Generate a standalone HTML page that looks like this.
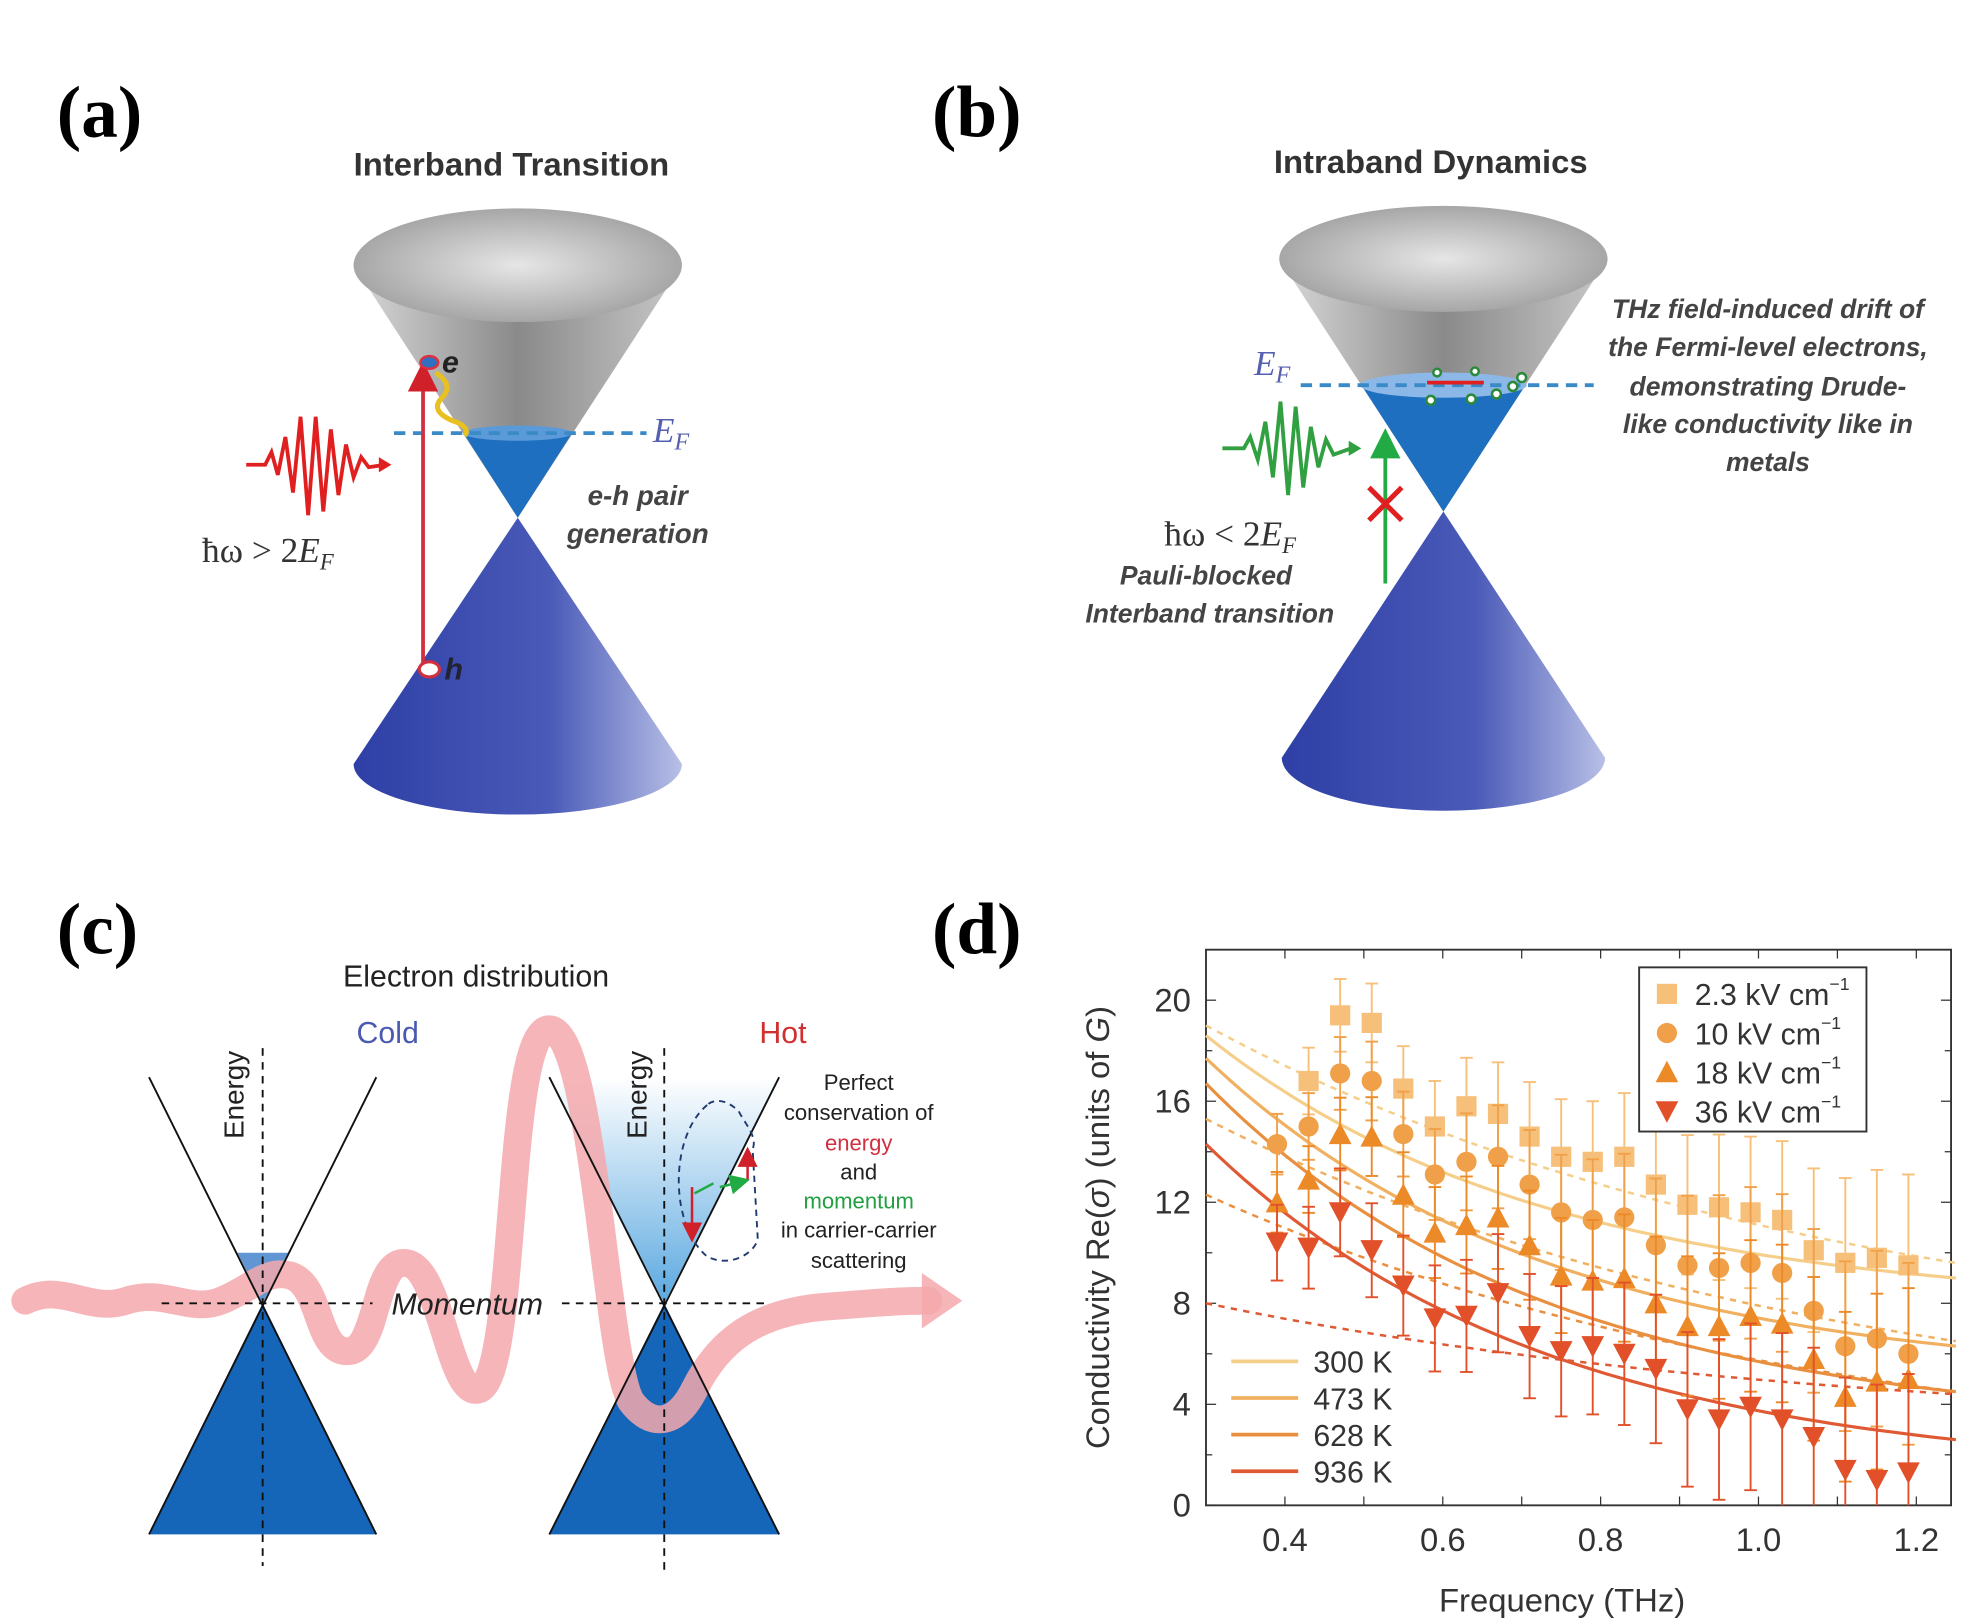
<!DOCTYPE html>
<html><head><meta charset="utf-8"><style>
html,body{margin:0;padding:0;background:#fff}
svg{display:block}
</style></head><body>
<svg id="s" width="1970" height="1619" viewBox="0 0 1560 1282" preserveAspectRatio="none" xmlns="http://www.w3.org/2000/svg" font-family="Liberation Sans, sans-serif">
<defs>
<linearGradient id="gray" x1="0" y1="0" x2="1" y2="0"><stop offset="0" stop-color="#d8d8d8"/><stop offset="0.5" stop-color="#8a8a8a"/><stop offset="1" stop-color="#c8c8c8"/></linearGradient>
<radialGradient id="grayTop" cx="0.5" cy="0.5" r="0.6"><stop offset="0" stop-color="#e6e6e6"/><stop offset="1" stop-color="#9a9a9a"/></radialGradient>
<linearGradient id="blue" x1="0" y1="0" x2="1" y2="0"><stop offset="0" stop-color="#2e3fa6"/><stop offset="0.6" stop-color="#4a5ab8"/><stop offset="1" stop-color="#b8c0e6"/></linearGradient>
<linearGradient id="hot" x1="0" y1="1" x2="0" y2="0"><stop offset="0" stop-color="#5aa8e0"/><stop offset="1" stop-color="#ffffff"/></linearGradient>
<marker id="ar" markerWidth="8" markerHeight="8" refX="6" refY="4" orient="auto"><path d="M0,0 L8,4 L0,8 z" fill="#d0202a"/></marker>
<marker id="ag" markerWidth="8" markerHeight="8" refX="6" refY="4" orient="auto"><path d="M0,0 L8,4 L0,8 z" fill="#22aa44"/></marker>
</defs>

<!-- (a) -->
<text x="45" y="108" font-family="Liberation Serif, serif" font-weight="bold" font-size="58">(a)</text>
<text x="405" y="139" text-anchor="middle" font-weight="bold" font-size="26" fill="#333">Interband Transition</text>
<path d="M280,210 L410,410 L540,210 Z" fill="url(#gray)"/>
<ellipse cx="410" cy="210" rx="130" ry="45" fill="url(#grayTop)"/>
<path d="M367,343 L410,410 L453,343 Z" fill="#1f6fc0"/>
<ellipse cx="410" cy="343" rx="43" ry="6" fill="#5b9ad8"/>
<path d="M410,410 L280,605 A130,40 0 0 0 540,605 Z" fill="url(#blue)"/>
<line x1="312" y1="343" x2="512" y2="343" stroke="#3a8ac8" stroke-width="3" stroke-dasharray="9,6"/>
<text x="517" y="350" font-family="Liberation Serif, serif" font-style="italic" font-size="28" fill="#5560b0">E<tspan font-size="19" dy="6">F</tspan></text>
<path d="M195,368 L210,368 L215,358 L220,376 L226,346 L232,390 L238,330 L244,408 L250,330 L256,405 L262,340 L268,392 L274,352 L280,378 L286,362 L292,370 L305,368" fill="none" stroke="#e02020" stroke-width="3"/>
<path d="M300,362 L310,368 L300,374 Z" fill="#e02020"/>
<text x="160" y="445" font-family="Liberation Serif, serif" font-size="28" fill="#333">ħω &gt; 2<tspan font-style="italic">E</tspan><tspan font-size="18" dy="6" font-style="italic">F</tspan></text>
<line x1="335" y1="525" x2="335" y2="292" stroke="#d03040" stroke-width="3" marker-end="url(#ar)"/>
<ellipse cx="340" cy="287" rx="7" ry="5" fill="#3070c0" stroke="#e03040" stroke-width="2"/>
<text x="350" y="295" font-style="italic" font-weight="bold" font-size="24" fill="#222">e</text>
<path d="M345,295 q15,10 5,20 q-10,10 8,18 q15,5 10,12" fill="none" stroke="#e8c020" stroke-width="4"/>
<ellipse cx="340" cy="530" rx="8" ry="6" fill="#fff" stroke="#d03040" stroke-width="2.5"/>
<text x="352" y="538" font-style="italic" font-weight="bold" font-size="24" fill="#223">h</text>
<text x="505" y="400" text-anchor="middle" font-style="italic" font-weight="bold" font-size="22" fill="#444">e-h pair</text>
<text x="505" y="430" text-anchor="middle" font-style="italic" font-weight="bold" font-size="22" fill="#444">generation</text>

<!-- (b) -->
<text x="738" y="108" font-family="Liberation Serif, serif" font-weight="bold" font-size="58">(b)</text>
<text x="1133" y="137" text-anchor="middle" font-weight="bold" font-size="26" fill="#333">Intraband Dynamics</text>
<path d="M1013,205 L1143,405 L1273,205 Z" fill="url(#gray)"/>
<ellipse cx="1143" cy="205" rx="130" ry="42" fill="url(#grayTop)"/>
<path d="M1078,305 L1143,405 L1208,305 Z" fill="#1f6fc0"/>
<ellipse cx="1143" cy="305" rx="66" ry="10" fill="#8cb8e8"/>
<path d="M1143,405 L1015,600 A128,42 0 0 0 1271,600 Z" fill="url(#blue)"/>
<line x1="1030" y1="305" x2="1262" y2="305" stroke="#3a8ac8" stroke-width="3" stroke-dasharray="9,6"/>
<line x1="1130" y1="303" x2="1175" y2="303" stroke="#e02020" stroke-width="3"/>
<g fill="#fff" stroke="#2a8a3a" stroke-width="2"><circle cx="1133" cy="317" r="3.5"/><circle cx="1165" cy="316" r="3.5"/><circle cx="1185" cy="312" r="3.5"/><circle cx="1198" cy="306" r="3.5"/><circle cx="1205" cy="299" r="3.5"/><circle cx="1138" cy="295" r="3"/><circle cx="1168" cy="294" r="3"/></g>
<text x="993" y="297" font-family="Liberation Serif, serif" font-style="italic" font-size="28" fill="#5560b0">E<tspan font-size="19" dy="6">F</tspan></text>
<path d="M968,355 L985,355 L990,346 L996,364 L1002,334 L1008,378 L1014,318 L1020,392 L1026,322 L1032,386 L1038,338 L1044,370 L1050,348 L1056,360 L1070,355" fill="none" stroke="#30a040" stroke-width="3"/>
<path d="M1068,349 L1078,355 L1068,361 Z" fill="#30a040"/>
<line x1="1097" y1="462" x2="1097" y2="345" stroke="#22aa44" stroke-width="3" marker-end="url(#ag)"/>
<path d="M1084,386 L1110,412 M1110,386 L1084,412" stroke="#e02020" stroke-width="4"/>
<text x="922" y="432" font-family="Liberation Serif, serif" font-size="28" fill="#333">ħω &lt; 2<tspan font-style="italic">E</tspan><tspan font-size="18" dy="6" font-style="italic">F</tspan></text>
<text x="955" y="463" text-anchor="middle" font-style="italic" font-weight="bold" font-size="21" fill="#444">Pauli-blocked</text>
<text x="958" y="493" text-anchor="middle" font-style="italic" font-weight="bold" font-size="21" fill="#444">Interband transition</text>
<g font-style="italic" font-weight="bold" font-size="21" fill="#444" text-anchor="middle">
<text x="1400" y="252">THz field-induced drift of</text>
<text x="1400" y="282">the Fermi-level electrons,</text>
<text x="1400" y="313">demonstrating Drude-</text>
<text x="1400" y="343">like conductivity like in</text>
<text x="1400" y="373">metals</text></g>

<!-- (c) -->
<text x="45" y="755" font-family="Liberation Serif, serif" font-weight="bold" font-size="58">(c)</text>
<text x="377" y="781" text-anchor="middle" font-size="24" fill="#222">Electron distribution</text>
<text x="307" y="826" text-anchor="middle" font-size="24" fill="#4a5ab0">Cold</text>
<text x="620" y="826" text-anchor="middle" font-size="24" fill="#d03030">Hot</text>
<path d="M188,992 L208,1032 L228,992 Z" fill="#3a7ac8" opacity="0.8"/>
<path d="M208,1032 L118,1215 L298,1215 Z" fill="#1565b8"/>
<path d="M526,1032 L435,853 L617,853 Z" fill="url(#hot)"/>
<path d="M526,1032 L435,1215 L617,1215 Z" fill="#1565b8"/>
<path d="M20,1030 C50,1015 70,1040 100,1030 C130,1020 150,1040 175,1030 C200,1020 210,1005 230,1010 C255,1018 250,1070 275,1070 C300,1070 295,1000 320,1000 C350,1000 355,1110 380,1100 C410,1085 400,815 435,815 C470,815 480,1080 500,1110 C515,1130 535,1130 550,1100 C570,1060 600,1040 650,1035 C690,1032 710,1030 735,1030" fill="none" stroke="#f4a8ac" stroke-width="22" stroke-linecap="round" opacity="0.85"/>
<path d="M730,1008 L762,1030 L730,1052 Z" fill="#f4a8ac" opacity="0.85"/>
<g stroke="#111" stroke-width="1.5"><line x1="118" y1="853" x2="298" y2="1215"/><line x1="298" y1="853" x2="118" y2="1215"/><line x1="435" y1="853" x2="617" y2="1215"/><line x1="617" y1="853" x2="435" y2="1215"/></g>
<g stroke="#111" stroke-width="1.5" stroke-dasharray="6,5"><line x1="208" y1="830" x2="208" y2="1240"/><line x1="526" y1="830" x2="526" y2="1245"/><line x1="128" y1="1032" x2="295" y2="1032"/><line x1="445" y1="1032" x2="608" y2="1032"/></g>
<text x="370" y="1041" text-anchor="middle" font-style="italic" font-size="24" fill="#222">Momentum</text>
<text transform="translate(193,867) rotate(-90)" text-anchor="middle" font-size="22" fill="#222">Energy</text>
<text transform="translate(512,867) rotate(-90)" text-anchor="middle" font-size="22" fill="#222">Energy</text>
<path d="M560,875 C530,900 530,970 560,995 C580,1005 600,990 600,980 L596,910 C600,900 590,890 585,880 C575,870 565,870 560,875 Z" fill="none" stroke="#203a70" stroke-width="1.5" stroke-dasharray="5,4"/>
<line x1="548" y1="940" x2="548" y2="980" stroke="#d02030" stroke-width="2" marker-end="url(#ar)"/>
<line x1="592" y1="935" x2="592" y2="912" stroke="#d02030" stroke-width="2" marker-end="url(#ar)"/>
<line x1="550" y1="945" x2="565" y2="937" stroke="#22aa44" stroke-width="2"/>
<line x1="570" y1="940" x2="590" y2="935" stroke="#22aa44" stroke-width="2" marker-end="url(#ag)"/>
<g font-size="17.5" text-anchor="middle" fill="#222">
<text x="680" y="863">Perfect</text><text x="680" y="887">conservation of</text>
<text x="680" y="911" fill="#d03040">energy</text><text x="680" y="934">and</text>
<text x="680" y="957" fill="#20a040">momentum</text><text x="680" y="980">in carrier-carrier</text>
<text x="680" y="1004">scattering</text></g>

<!-- (d) -->
<text x="738" y="755" font-family="Liberation Serif, serif" font-weight="bold" font-size="58">(d)</text>
<g id="plot"></g>
</svg>
<script>
const NS="http://www.w3.org/2000/svg",P=document.getElementById('plot');
function el(t,a,txt){const e=document.createElementNS(NS,t);for(const k in a)e.setAttribute(k,a[k]);if(txt!==undefined)e.textContent=txt;P.appendChild(e);return e;}
const X=f=>955+(f-0.3)*625, Y=v=>1192-v*20;
// frame
el('rect',{x:955,y:752,width:590,height:440,fill:'none',stroke:'#333','stroke-width':1.5});
for(let f=0.4;f<1.25;f+=0.1){const x=X(f);el('line',{x1:x,y1:1192,x2:x,y2:1185,stroke:'#333'});el('line',{x1:x,y1:752,x2:x,y2:759,stroke:'#333'});}
for(let v=0;v<=22;v+=2){const y=Y(v);el('line',{x1:955,y1:y,x2:v%4?960:963,y2:y,stroke:'#333'});el('line',{x1:1545,y1:y,x2:v%4?1540:1537,y2:y,stroke:'#333'});}
[0.4,0.6,0.8,1.0,1.2].forEach(f=>el('text',{x:X(f),y:1228,'text-anchor':'middle','font-size':26,fill:'#333'},f.toFixed(1)));
[0,4,8,12,16,20].forEach(v=>el('text',{x:943,y:Y(v)+9,'text-anchor':'end','font-size':26,fill:'#333'},v));
el('text',{x:1237,y:1276,'text-anchor':'middle','font-size':26,fill:'#333'},'Frequency (THz)');
const yl=el('text',{transform:'translate(878,972) rotate(-90)','text-anchor':'middle','font-size':26,fill:'#333'});
yl.innerHTML='Conductivity Re(<tspan font-style="italic">σ</tspan>) (units of <tspan font-style="italic">G</tspan>)';
const cols=['#f5cf8a','#f0b060','#e99040','#df5a34'];
const mcol=['#f7c07a','#f0a048','#ec8a28','#e2502a'];
// curves: drude-like a/(1+b f^2)
const sol=[[18.6,9.0],[17.7,6.3],[16.7,4.5],[14.3,2.6]];
const das=[[19.0,9.6],[15.3,6.5],[12.3,4.5],[8.0,4.4]];
function curve(p,dash,c){let d='';for(let i=0;i<=60;i++){const f=0.3+i*(0.95/60);const t=(f-0.3)/0.95;const k=dash?1.2:2.2;const v=p[1]+(p[0]-p[1])*(Math.exp(-k*t)-Math.exp(-k))/(1-Math.exp(-k));d+=(i?'L':'M')+X(f).toFixed(1)+','+Y(v).toFixed(1);}el('path',{d:d,fill:'none',stroke:c,'stroke-width':dash?2:2.5,'stroke-dasharray':dash?'5,5':''});}
for(let i=0;i<4;i++){curve(das[i],true,cols[i]);curve(sol[i],false,cols[i]);}
const fx=[0.39,0.43,0.47,0.51,0.55,0.59,0.63,0.67,0.71,0.75,0.79,0.83,0.87,0.91,0.95,0.99,1.03,1.07,1.11,1.15,1.19];
const D=[
[null,16.8,19.4,19.1,16.5,15.0,15.8,15.5,14.6,13.8,13.6,13.8,12.7,11.9,11.8,11.6,11.3,10.1,9.6,9.8,9.5],
[14.3,15.0,17.1,16.8,14.7,13.1,13.6,13.8,12.7,11.6,11.3,11.4,10.3,9.5,9.4,9.6,9.2,7.7,6.3,6.6,6.0],
[12.0,12.9,14.7,14.6,12.3,10.8,11.1,11.4,10.3,9.1,8.9,9.0,8.0,7.1,7.1,7.5,7.2,5.8,4.3,4.9,5.0],
[10.4,10.2,11.6,10.1,8.7,7.4,7.5,8.4,6.7,6.1,6.3,6.0,5.4,3.8,3.4,3.9,3.4,2.7,1.4,1.0,1.3]];
for(let s=0;s<4;s++)D[s].forEach((v,i)=>{if(v==null)return;const x=X(fx[i]),y=Y(v);const e=1.2+i*0.12+(s==3?0.3:0);const yt=Y(v+e),yb=Y(Math.max(v-e,-0.2));
el('line',{x1:x,y1:yt,x2:x,y2:Math.min(yb,1192),stroke:mcol[s],'stroke-width':1.5});el('line',{x1:x-5,y1:yt,x2:x+5,y2:yt,stroke:mcol[s],'stroke-width':1.5});if(yb<1192)el('line',{x1:x-5,y1:yb,x2:x+5,y2:yb,stroke:mcol[s],'stroke-width':1.5});
mark(s,x,y);});
function mark(s,x,y,sz){sz=sz||8;const c=mcol[s];if(s==0)el('rect',{x:x-sz,y:y-sz,width:2*sz,height:2*sz,fill:c});else if(s==1)el('circle',{cx:x,cy:y,r:sz,fill:c});else if(s==2)el('path',{d:`M${x},${y-sz-1}L${x+sz+1},${y+sz}L${x-sz-1},${y+sz}Z`,fill:c});else el('path',{d:`M${x},${y+sz+1}L${x+sz+1},${y-sz}L${x-sz-1},${y-sz}Z`,fill:c});}
// legend
el('rect',{x:1298,y:766,width:180,height:130,fill:'#fff',stroke:'#333','stroke-width':1.5});
const lab=['2.3','10','18','36'];
for(let s=0;s<4;s++){const y=787+s*31;mark(s,1320,y,8);const t=el('text',{x:1342,y:y+9,'font-size':24,fill:'#333'});t.innerHTML=lab[s]+' kV cm<tspan font-size="14" dy="-12">−1</tspan>';}
const tl=['300 K','473 K','628 K','936 K'];
for(let s=0;s<4;s++){const y=1078+s*29;el('line',{x1:975,y1:y,x2:1028,y2:y,stroke:cols[s],'stroke-width':3});el('text',{x:1040,y:y+9,'font-size':24,fill:'#333'},tl[s]);}
</script>
</body></html>
